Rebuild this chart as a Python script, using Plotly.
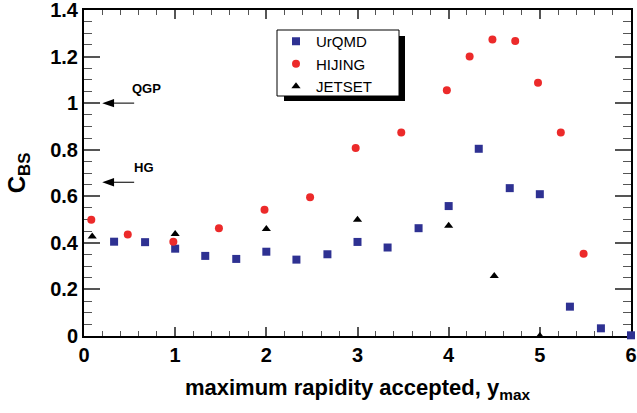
import plotly.graph_objects as go

# ---- data ----
urqmd_x = [0.33, 0.67, 1.0, 1.33, 1.67, 2.0, 2.33, 2.67, 3.0, 3.33, 3.67, 4.0,
           4.33, 4.67, 5.0, 5.33, 5.67, 6.0]
urqmd_y = [0.405, 0.403, 0.375, 0.344, 0.331, 0.362, 0.328, 0.351, 0.404, 0.380,
           0.463, 0.558, 0.804, 0.635, 0.609, 0.126, 0.033, 0.003]

hijing_x = [0.08, 0.48, 0.98, 1.48, 1.98, 2.48, 2.98, 3.48, 3.98, 4.23, 4.48,
            4.73, 4.98, 5.23, 5.48]
hijing_y = [0.499, 0.436, 0.405, 0.463, 0.542, 0.596, 0.807, 0.874, 1.055, 1.200,
            1.273, 1.267, 1.088, 0.874, 0.353]

jetset_x = [0.09, 1.0, 2.0, 3.0, 4.0, 4.5, 5.0]
jetset_y = [0.427, 0.438, 0.459, 0.499, 0.474, 0.258, 0.0]

qgp_value = 1.0
hg_value = 0.66

FONT = "Liberation Sans, Arial, sans-serif"

fig = go.Figure()
fig.add_trace(go.Scatter(x=urqmd_x, y=urqmd_y, mode="markers", name="UrQMD",
                         marker=dict(symbol="square", size=8, color="#2e3192"),
                         cliponaxis=False))
fig.add_trace(go.Scatter(x=hijing_x, y=hijing_y, mode="markers", name="HIJING",
                         marker=dict(symbol="circle", size=8, color="#ec2a2a"),
                         cliponaxis=False))
fig.add_trace(go.Scatter(x=jetset_x, y=jetset_y, mode="markers", name="JETSET",
                         marker=dict(symbol="triangle-up", size=8, color="black"),
                         cliponaxis=False))

# arrows (line + filled head) and labels
tip_x, head_x, tail_x, half_h = 0.2, 0.33, 0.55, 0.018
for val, label, lx, ly in [(qgp_value, "QGP", 0.69, qgp_value + 0.062),
                           (hg_value, "HG", 0.66, hg_value + 0.062)]:
    fig.add_shape(type="line", xref="x", yref="y", x0=head_x - 0.02, x1=tail_x,
                  y0=val, y1=val, line=dict(color="#333", width=1.3))
    fig.add_shape(type="path", xref="x", yref="y",
                  path=f"M {tip_x} {val} L {head_x} {val + half_h} "
                       f"L {head_x} {val - half_h} Z",
                  fillcolor="black", line=dict(width=0))
    fig.add_annotation(x=lx, y=ly, xref="x", yref="y", text=label,
                       showarrow=False,
                       font=dict(family=FONT, size=13, color="black", weight="bold"))

W, H = 637, 413
ml, mr, mt, mb = 84, 6, 10, 77
pw, ph = W - ml - mr, H - mt - mb


def px2paper_x(p):
    return (p - ml) / pw


def px2paper_y(p):
    return (H - mb - p) / ph


# legend box with drop shadow
fig.add_shape(type="rect", xref="paper", yref="paper",
              x0=px2paper_x(284), x1=px2paper_x(405),
              y0=px2paper_y(101), y1=px2paper_y(36),
              fillcolor="black", line=dict(width=0), layer="above")
fig.add_shape(type="rect", xref="paper", yref="paper",
              x0=px2paper_x(277), x1=px2paper_x(399),
              y0=px2paper_y(96), y1=px2paper_y(30),
              fillcolor="white", line=dict(width=1, color="black"), layer="above")

axis_common = dict(showline=True, linecolor="black", linewidth=2, mirror="allticks",
                   ticks="inside", tickcolor="#555", tickwidth=1.5,
                   showgrid=False, zeroline=False, automargin=False,
                   ticklabeloverflow="allow", layer="below traces",
                   tickfont=dict(family=FONT, size=20, color="black", weight="bold"))

fig.update_layout(
    width=W, height=H,
    margin=dict(l=ml, r=mr, t=mt, b=mb),
    plot_bgcolor="white", paper_bgcolor="white",
    xaxis=dict(range=[0, 6], dtick=1, ticklen=9,
               minor=dict(dtick=0.2, ticklen=5, ticks="inside", tickcolor="#555",
                          tickwidth=1.2),
               title=dict(text="maximum rapidity accepted, y<sub>max</sub>",
                          standoff=15,
                          font=dict(family=FONT, size=22, color="black", weight="bold")),
               **axis_common),
    yaxis=dict(range=[0, 1.4000001], dtick=0.2, ticklen=16,
               minor=dict(dtick=0.05, ticklen=8, ticks="inside", tickcolor="#555",
                          tickwidth=1.2),
               title=dict(text="C<sub>BS</sub>", standoff=18,
                          font=dict(family=FONT, size=24, color="black", weight="bold")),
               **axis_common),
    legend=dict(x=px2paper_x(276), y=px2paper_y(25), xanchor="left", yanchor="top",
                bgcolor="rgba(0,0,0,0)", borderwidth=0,
                font=dict(family=FONT, size=15, color="black"),
                tracegroupgap=0, itemwidth=30),
    showlegend=True,
)

fig.write_html("out.html", config={"displayModeBar": False},
               post_script="document.body.style.margin='0';document.body.style.overflow='hidden';")
